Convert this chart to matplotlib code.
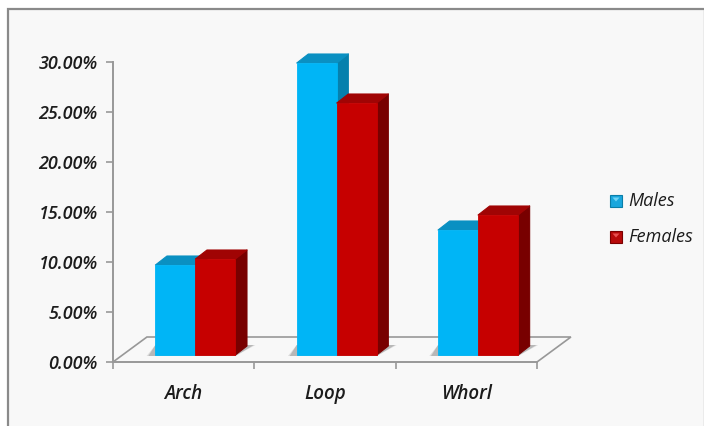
import matplotlib
matplotlib.use('Agg')
import matplotlib.pyplot as plt
from matplotlib.patches import Polygon, Rectangle

categories = ['Arch', 'Loop', 'Whorl']
males = [9.0, 29.2, 12.5]
females = [9.6, 25.2, 14.0]
y_ticks = [0, 5, 10, 15, 20, 25, 30]

W, H = 704, 426
AXIS = '#989898'
TEXT = '#1c1c1c'
BAR_W = 0.283       # one bar, in category units
DX = 0.082          # depth of a bar
DY = 0.9
BASE = 0.7          # bars stand a bit above the front edge of the floor
FLOOR_DX = 0.24
FLOOR_DY = 2.5

plt.rcParams['font.family'] = ['Open Sans', 'DejaVu Sans']

fig = plt.figure(figsize=(W / 100, H / 100), dpi=100, facecolor='white')
fig.patches.append(Rectangle((8 / W, -0.01), 0.99, 1 - 9 / H + 0.01, transform=fig.transFigure,
                             facecolor='#f8f8f8', edgecolor='#8a8a8a', linewidth=1.6, zorder=-1))

ax = fig.add_axes([113 / W, 1 - 362 / H, (537 - 113) / W, 300 / H])
ax.set_xlim(0, 3)
ax.set_ylim(0, 30)
ax.patch.set_visible(False)

# floor
ax.plot([0, FLOOR_DX, 3 + FLOOR_DX, 3], [0, FLOOR_DY, FLOOR_DY, 0], color=AXIS, lw=1.2,
        clip_on=False, zorder=1, solid_joinstyle='miter')


def draw_bar(left, value, front, side, top, z):
    y1 = BASE + value
    ax.bar(left, value, BAR_W, bottom=BASE, align='edge', color=front, edgecolor=front,
           linewidth=0.6, clip_on=False, zorder=z + 0.2)
    ax.add_patch(Polygon([(left + BAR_W, BASE), (left + BAR_W + DX, BASE + DY),
                          (left + BAR_W + DX, y1 + DY), (left + BAR_W, y1)],
                         facecolor=side, edgecolor=side, lw=0.8, joinstyle='round',
                         clip_on=False, zorder=z))
    ax.add_patch(Polygon([(left, y1), (left + DX, y1 + DY), (left + BAR_W + DX, y1 + DY),
                          (left + BAR_W, y1)],
                         facecolor=top, edgecolor=top, lw=0.8, joinstyle='round',
                         clip_on=False, zorder=z + 0.1))


for i in range(len(categories)):
    start = i + 0.3
    # soft shadow on the floor
    for grow, alpha in [(0.012, 0.25), (0.0, 0.45)]:
        ax.add_patch(Polygon([(start - 0.05 - grow, BASE - 0.1), (start + 2 * BAR_W, BASE - 0.1),
                              (start + 2 * BAR_W + 0.13 + grow, BASE + 1.0),
                              (start, BASE + 1.0)],
                             facecolor='#8a8a8a', edgecolor='none', alpha=alpha,
                             clip_on=False, zorder=2))
    draw_bar(start, males[i], '#00b5f6', '#0680ad', '#0a90c2', 3)
    draw_bar(start + BAR_W, females[i], '#c60000', '#780000', '#a00404', 4)

for name in ['top', 'right']:
    ax.spines[name].set_visible(False)
for name in ['left', 'bottom']:
    ax.spines[name].set_color(AXIS)
    ax.spines[name].set_linewidth(1.4)
ax.set_yticks(y_ticks)
ax.set_yticklabels(['%.2f%%' % v for v in y_ticks], fontsize=13, style='italic',
                   fontweight='semibold', color=TEXT)
ax.set_xticks([0, 1, 2, 3])
ax.set_xticklabels([])
ax.tick_params(axis='y', length=5, width=1.2, color=AXIS, pad=6)
ax.tick_params(axis='x', length=5, width=1.2, color=AXIS)

for i, name in enumerate(categories):
    ax.annotate(name, (i + 0.5, 0), xytext=(0, -23), textcoords='offset points',
                ha='center', va='center', fontsize=13.5, style='italic',
                fontweight='semibold', color=TEXT, annotation_clip=False)

# legend
legend_rows = [('Males', 195, '#1aa7dd', '#6fd4f5', '#0a7ea8'),
               ('Females', 231, '#b80a0a', '#e85050', '#7a0000')]
for name, y, base, light, edge in legend_rows:
    fig.patches.append(Rectangle((610 / W, 1 - (y + 12) / H), 12 / W, 12 / H, transform=fig.transFigure,
                                 facecolor=base, edgecolor=edge, linewidth=0.8, zorder=5))
    fig.patches.append(Polygon([(612.5 / W, 1 - (y + 2.5) / H), (619.5 / W, 1 - (y + 2.5) / H),
                                (616 / W, 1 - (y + 6.5) / H)], transform=fig.transFigure,
                               facecolor=light, edgecolor='none', zorder=6))
    fig.text(628 / W, 1 - (y + 6) / H, name, ha='left', va='center', fontsize=13, style='italic',
             color=TEXT)

fig.savefig('out.png', dpi=100, facecolor='white')
